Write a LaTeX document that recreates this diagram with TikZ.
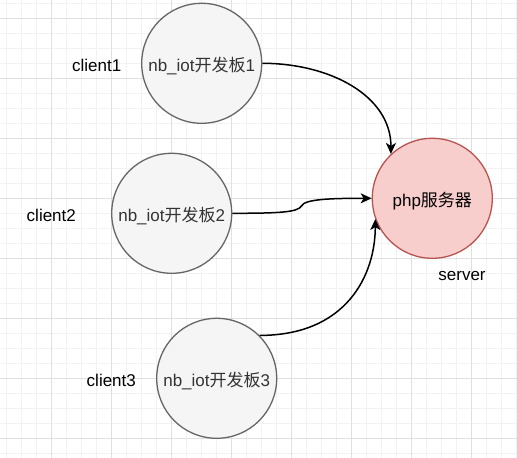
\documentclass[tikz,border=0pt]{standalone}
\usepackage{fontspec}
\setmainfont{Liberation Sans}
\newfontfamily\cjk{Noto Sans CJK SC}
\usetikzlibrary{arrows.meta}
\definecolor{gridminor}{HTML}{F2F2F2}
\definecolor{gridmajor}{HTML}{E0E0E0}
\definecolor{clientfill}{HTML}{F5F5F5}
\definecolor{clientdraw}{HTML}{666666}
\definecolor{clienttext}{HTML}{333333}
\definecolor{serverfill}{HTML}{F8CECC}
\definecolor{serverdraw}{HTML}{B85450}
\tikzset{
  board/.style={circle, minimum size=120pt, inner sep=0pt, line width=1.3pt, draw=clientdraw, fill=clientfill},
  srvbox/.style={circle, minimum size=120pt, inner sep=0pt, line width=1.3pt, draw=serverdraw, fill=serverfill},
  txt/.style={anchor=base, inner sep=0pt, font=\fontsize{17}{20}\selectfont},
  link/.style={line width=1.5pt, -{Stealth[length=11pt,width=10pt,inset=3pt]}},
}
\begin{document}
\begin{tikzpicture}[x=1pt,y=-1pt]
\useasboundingbox (0,0) rectangle (517,458);
\fill[white] (0,0) rectangle (517,458);
% grid
\foreach \x in {6.7,21.7,...,516.7} \draw[gridminor, line width=1pt] (\x,0) -- (\x,458);
\foreach \y in {3.3,18.3,...,453.3} \draw[gridminor, line width=1pt] (0,\y) -- (517,\y);
\foreach \x in {51.7,111.7,...,471.7} \draw[gridmajor, line width=1pt] (\x,0) -- (\x,458);
\foreach \y in {18.3,78.3,...,438.3} \draw[gridmajor, line width=1pt] (0,\y) -- (517,\y);
% nodes
\node[board] (c1) at (201.7,63.3) {};
\node[board] (c2) at (171.7,213.3) {};
\node[board] (c3) at (216.7,378.3) {};
\node[srvbox] (srv) at (432.3,198.3) {};
\node[txt, text=clienttext] (t1) at ([yshift=-8.3pt]c1.center) {nb\_iot{\cjk 开发板}1};
\node[txt, text=clienttext] (t2) at ([yshift=-8.3pt]c2.center) {nb\_iot{\cjk 开发板}2};
\node[txt, text=clienttext] (t3) at ([yshift=-8.3pt]c3.center) {nb\_iot{\cjk 开发板}3};
\node[txt] (ts) at ([yshift=-8.3pt]srv.center) {php{\cjk 服务器}};
\node[txt] (l1) at (96.7,71.7) {client1};
\node[txt] (l2) at (51.3,221) {client2};
\node[txt] (l3) at (111.3,386) {client3};
\node[txt] (ls) at (462,280) {server};
% connectors
\coordinate (bump) at (301.5,206);
\draw[link] (c1.east) .. controls +(68,0) and +(0,-58) .. (srv.133.6);
\draw[line width=1.5pt] (c2.east) .. controls +(50,0) and +(-4,6) .. (bump);
\draw[link] (bump) .. controls +(3,-7) and +(-40,0) .. (srv.west);
\draw[link] (c3.45.7) .. controls +(87,0) and +(0,56) .. (srv.200.4);
\end{tikzpicture}
\end{document}
